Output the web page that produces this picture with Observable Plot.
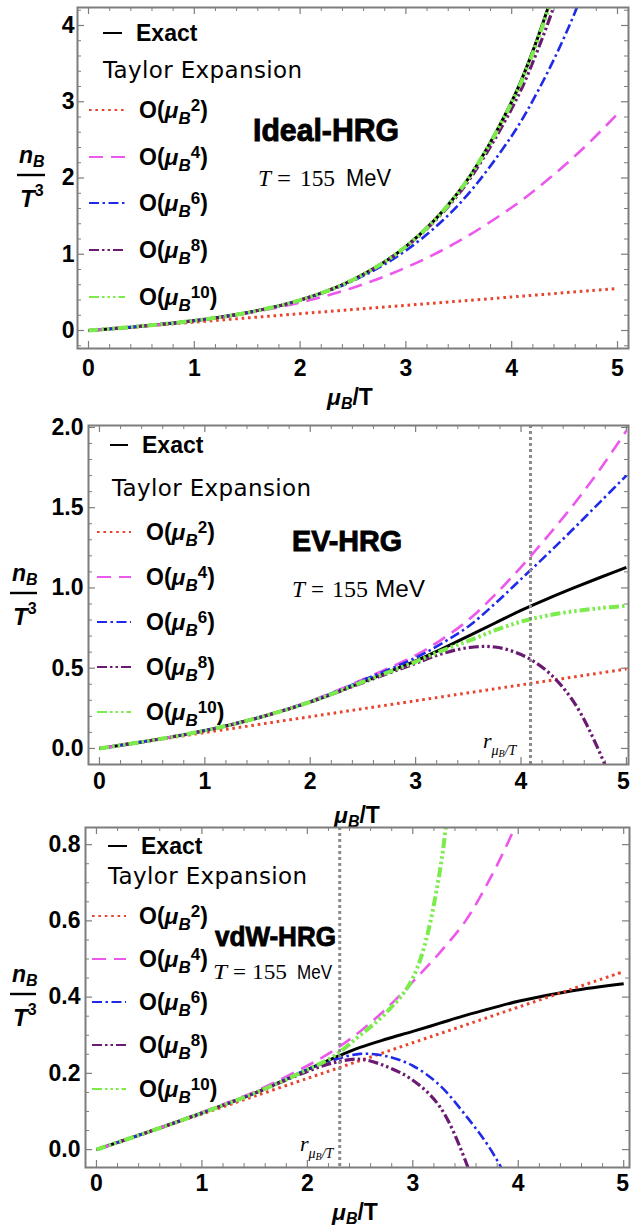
<!DOCTYPE html>
<html><head><meta charset="utf-8">
<script src="https://cdn.jsdelivr.net/npm/d3@7"></script>
<script src="https://cdn.jsdelivr.net/npm/@observablehq/plot@0.6"></script>
<style>
body{margin:0;background:#fff;}
#wrap{position:relative;width:631px;height:1226px;overflow:hidden;}
#wrap svg{position:absolute;left:0;}
</style></head><body><div id="wrap"></div>
<script>
// ---------- DATA ----------
// Panel 1: Ideal-HRG
const idealX    = [0,0.5,1,1.5,2,2.5,3,3.5,4,4.25,4.5,4.75,5];
const idealExact= [0,0.057,0.129,0.234,0.399,0.666,1.102,1.820,3.002,3.855,4.95,6.36,8.16];
const idealO2   = [0,0.055,0.11,0.165,0.22,0.275,0.33,0.385,0.44,0.4675,0.495,0.5225,0.55];
const idealO4   = [0,0.0573,0.1283,0.2269,0.3667,0.5615,0.825,1.171,1.613,1.875,2.166,2.487,2.842];
const idealO6   = [0,0.0573,0.1292,0.2338,0.396,0.651,1.048,1.653,2.552,3.146,3.857,4.704,5.706];
const idealO8   = [0,0.0573,0.1293,0.2342,0.3988,0.6643,1.0955,1.793,2.910,3.693,4.673,5.895,7.41];
const idealO10  = [0,0.0573,0.1293,0.2342,0.399,0.6655,1.1015,1.817,2.989,3.830,4.90,6.27,8.0];
// Panel 2: EV-HRG
const evX    = [0,0.5,1,1.5,2,2.5,3,3.25,3.5,3.75,4,4.25,4.5,4.75,5];
const evExact= [0,0.051,0.111,0.19,0.29,0.415,0.545,0.62,0.70,0.78,0.86,0.932,1.0,1.065,1.128];
const evO2   = [0,0.0495,0.099,0.1485,0.198,0.2475,0.297,0.3218,0.3465,0.3713,0.396,0.4208,0.4455,0.4703,0.495];
const evO4   = [0,0.051,0.112,0.192,0.295,0.43,0.58,0.68,0.80,0.955,1.13,1.32,1.52,1.74,1.98];
const evO6   = [0,0.051,0.112,0.191,0.292,0.425,0.565,0.655,0.76,0.90,1.055,1.21,1.37,1.535,1.70];
const evO8   = [0,0.051,0.111,0.19,0.289,0.41,0.53,0.59,0.628,0.632,0.585,0.48,0.29,-0.03,-0.45];
const evO10  = [0,0.051,0.111,0.19,0.29,0.415,0.54,0.61,0.67,0.735,0.79,0.828,0.855,0.874,0.889];
const evRadius = 4.09;
// Panel 3: vdW-HRG
const vdwX    = [0,0.5,1,1.5,2,2.25,2.5,2.75,3,3.25,3.5,3.75,4,4.5,5];
const vdwExact= [0,0.047,0.096,0.148,0.21,0.24,0.268,0.29,0.31,0.331,0.352,0.371,0.389,0.416,0.435];
const vdwO2   = [0,0.0467,0.0934,0.1401,0.1868,0.2102,0.2335,0.2569,0.2802,0.3036,0.3269,0.3503,0.3736,0.4203,0.467];
const vdwO4   = [0,0.047,0.098,0.152,0.22,0.26,0.31,0.37,0.44,0.515,0.60,0.72,0.865,1.2,1.6];
const vdwO6   = [0,0.047,0.096,0.148,0.21,0.235,0.251,0.245,0.22,0.17,0.09,-0.005,-0.14,-0.5,-1.0];
const vdwO8   = [0,0.047,0.096,0.148,0.205,0.228,0.237,0.218,0.182,0.115,-0.03,-0.25,-0.55,-1.2,-2.0];
const vdwO10  = [0,0.047,0.096,0.148,0.21,0.245,0.30,0.36,0.45,0.72,1.5,2.5,4.0,6.0,8.0];
const vdwRadius = 2.307;

const seriesKeys = ["Exact","O2","O4","O6","O8","O10"];
const orderLabels = ["2","4","6","8","10"];
const xTicks = [0,1,2,3,4,5];
const idealYTicks = [0,1,2,3,4];
const evYTicks = [0,0.5,1.0,1.5,2.0];
const vdwYTicks = [0,0.2,0.4,0.6,0.8];

// ---------- STYLE ----------
const SANS = "'Liberation Sans', Arial, Helvetica, sans-serif";
const SERIF = "'Liberation Serif', 'Times New Roman', serif";
const WIDE = "'DejaVu Sans', sans-serif";
const GRAY = "#7d7d7d";
const STY = {
  Exact:{c:"#000000", w:3, d:null},
  O2:  {c:"#e8432d", w:3, d:"2.6,3.8"},
  O4:  {c:"#ec57ec", w:2.6, d:"14,8"},
  O6:  {c:"#1f2ae8", w:2.6, d:"10,3.5,2.5,3.5"},
  O8:  {c:"#6a1a72", w:3.2, d:"10,3,2.5,3,2.5,3"},
  O10: {c:"#7cec4c", w:4, d:"10,3,2.5,3,2.5,3,2.5,3"}
};
const W = 631;
const wrap = document.getElementById("wrap");

function txt(g, x, y, s, o={}) {
  const t = g.append("text").attr("x", x).attr("y", y)
    .attr("font-family", o.family || SANS).attr("font-size", o.size || 22)
    .attr("font-weight", o.weight || "normal").attr("font-style", o.style || "normal")
    .attr("text-anchor", o.anchor || "start").attr("fill", "#000").text(s);
  if (o.len) t.attr("textLength", o.len).attr("lengthAdjust", o.adjust || "spacingAndGlyphs");
  if (o.stroke) t.attr("stroke", "#000").attr("stroke-width", o.stroke);
  return t;
}
function oLabel(g, x, y, n) {
  const t = g.append("text").attr("x", x).attr("y", y).attr("font-family", SANS)
    .attr("text-anchor","start").attr("font-weight","bold").attr("font-size",23).attr("fill","#000");
  t.append("tspan").text("O(");
  t.append("tspan").attr("font-style","italic").text("μ");
  t.append("tspan").attr("font-style","italic").attr("font-size",17).attr("dy",6).text("B");
  t.append("tspan").attr("font-size",17).attr("dy",-13).text(n);
  t.append("tspan").attr("dy",7).text(")");
}
function yLabel(g, x0, bar, w) {
  const a = g.append("text").attr("x", x0+2).attr("y", bar-12).attr("font-family",SANS).attr("text-anchor","start")
    .attr("font-weight","bold").attr("font-style","italic").attr("font-size",23);
  a.append("tspan").text("n");
  a.append("tspan").attr("font-size",16).attr("dy",4).text("B");
  g.append("line").attr("x1",x0).attr("x2",x0+w).attr("y1",bar).attr("y2",bar)
    .attr("stroke","#000").attr("stroke-width",2.4);
  const b = g.append("text").attr("x", x0+3).attr("y", bar+32).attr("font-family",SANS).attr("text-anchor","start")
    .attr("font-weight","bold").attr("font-style","italic").attr("font-size",24);
  b.append("tspan").text("T");
  b.append("tspan").attr("font-size",16).attr("font-style","normal").attr("dy",-11).text("3");
}
function xLabel(g, cx, y) {
  const t = g.append("text").attr("x",cx).attr("y",y).attr("text-anchor","middle")
    .attr("font-family",SANS).attr("font-weight","bold").attr("font-size",23);
  t.append("tspan").attr("font-style","italic").text("μ");
  t.append("tspan").attr("font-style","italic").attr("font-size",16).attr("dy",4).text("B");
  t.append("tspan").attr("dy",-4).text("/T");
}
function rLabel(g, x, y) {
  const t = g.append("text").attr("x",x).attr("y",y).attr("font-family",SERIF).attr("text-anchor","start")
    .attr("font-style","italic").attr("font-size",22);
  t.append("tspan").text("r");
  t.append("tspan").attr("font-size",14).attr("dy",7).text("μ");
  t.append("tspan").attr("font-size",10).attr("dy",2).text("B");
  t.append("tspan").attr("font-size",14).attr("dy",-2).text("/T");
}
function tempLabel(g, y, parts, size) {
  const [pT, pE, pN, pM] = parts;
  txt(g, pT[0], y, "T", {family:SERIF, style:"italic", size, len:pT[1]-pT[0]});
  txt(g, pE[0], y, "=", {family:SERIF, size, len:pE[1]-pE[0]});
  txt(g, pN[0], y, "155", {family:SERIF, size, len:pN[1]-pN[0]});
  txt(g, pM[0], y, "MeV", {family:SANS, size, len:pM[1]-pM[0]});
}
function legend(g, L) {
  g.append("line").attr("x1",L.ex[0]).attr("x2",L.ex[1]).attr("y1",L.ey).attr("y2",L.ey)
    .attr("stroke","#000").attr("stroke-width",2);
  txt(g, L.etx, L.ey+8, "Exact", {weight:"bold", size:23});
  txt(g, L.tx, L.ty+8, "Taylor Expansion", {family:WIDE, size:23, len:199, adjust:"spacing"});
  seriesKeys.slice(1).forEach((k,i) => {
    const y = L.ys[i];
    g.append("line").attr("x1",L.sx[0]).attr("x2",L.sx[1]).attr("y1",y).attr("y2",y)
      .attr("stroke",STY[k].c).attr("stroke-width",2.2).attr("stroke-dasharray", STY[k].d);
    oLabel(g, L.lx, y+8, orderLabels[i]);
  });
}

function makePanel(p) {
  const innerW = W - p.ml - p.mr, innerH = p.h - p.mt - p.mb;
  const eps = 1e-9;
  const inD = (v, d) => v >= d[0]-eps && v <= d[1]+eps;
  const xMinor = d3.range(-1, 27).map(i => i*0.2).filter(v => inD(v,p.xd) && Math.abs(v-Math.round(v))>1e-6);
  const yMinor = d3.range(-2, 200).map(i => i*p.yMinorStep).filter(v => inD(v,p.yd) && !p.yTicks.some(t => Math.abs(t-v)<1e-6));
  const rows = [];
  p.series.forEach(s => s.y.forEach((v,i) => rows.push({x: p.x[i], y: v, k: s.k})));
  const lastDx = p.lastDx || 0;
  const marks = [
    Plot.tickX(xMinor, {x: d=>d, insetTop: innerH-4, stroke: GRAY, strokeWidth: 1}),
    Plot.tickX(xMinor, {x: d=>d, insetBottom: innerH-4, stroke: GRAY, strokeWidth: 1}),
    Plot.tickX(xTicks, {x: d=>d, insetTop: innerH-7, stroke: GRAY, strokeWidth: 1.2}),
    Plot.tickX(xTicks, {x: d=>d, insetBottom: innerH-7, stroke: GRAY, strokeWidth: 1.2}),
    Plot.tickY(yMinor, {y: d=>d, insetRight: innerW-4, stroke: GRAY, strokeWidth: 1}),
    Plot.tickY(yMinor, {y: d=>d, insetLeft: innerW-4, stroke: GRAY, strokeWidth: 1}),
    Plot.tickY(p.yTicks, {y: d=>d, insetRight: innerW-7, stroke: GRAY, strokeWidth: 1.2}),
    Plot.tickY(p.yTicks, {y: d=>d, insetLeft: innerW-7, stroke: GRAY, strokeWidth: 1.2}),
    Plot.axisX({ticks: xTicks.slice(0,-1), tickSize: 0, tickPadding: p.xPad, label: null, tickFormat: d3.format("d")}),
    Plot.axisX({ticks: xTicks.slice(-1), tickSize: 0, tickPadding: p.xPad, label: null, tickFormat: d3.format("d"), dx: lastDx}),
    Plot.axisY({ticks: p.yTicks, tickSize: 0, tickPadding: p.yPad, label: null, tickFormat: p.yFmt}),
  ];
  p.series.forEach(s => {
    const st = STY[s.k];
    marks.push(Plot.line(rows.filter(r => r.k === s.k), {
      x: "x", y: "y", stroke: st.c, strokeWidth: st.w, strokeDasharray: st.d,
      strokeLinecap: "butt", strokeLinejoin: "round",
      curve: "catmull-rom", clip: true
    }));
  });
  if (p.radius != null) {
    marks.push(Plot.ruleX([p.radius], {stroke: "#8a8a8a", strokeWidth: 3, strokeDasharray: "3,3"}));
  }
  marks.push(Plot.frame({stroke: GRAY, strokeWidth: 2}));
  const node = Plot.plot({
    width: W, height: p.h,
    marginTop: p.mt, marginBottom: p.mb, marginLeft: p.ml, marginRight: p.mr,
    x: {domain: p.xd}, y: {domain: p.yd},
    style: {fontFamily: SANS, fontSize: "23px", fontWeight: "bold", background: "transparent", overflow: "visible", color: "#000"},
    marks
  });
  node.style.top = p.top + "px";
  wrap.appendChild(node);
  const g = d3.select(node).append("g").attr("transform", `translate(0,${-p.top})`)
    .attr("font-weight","normal").attr("fill","#000").attr("text-anchor","start");
  return g;
}

// ---------- PANEL 1 ----------
{
  const g = makePanel({top: 0, h: 415, mt: 7, mb: 67, ml: 77, mr: 3,
    xd: [-0.104, 5.104], yd: [-0.236, 4.236], yTicks: idealYTicks, yMinorStep: 0.2,
    yFmt: d3.format("d"), xPad: 11, yPad: 3, x: idealX,
    series: [{k:"Exact",y:idealExact},{k:"O2",y:idealO2},{k:"O4",y:idealO4},{k:"O6",y:idealO6},{k:"O8",y:idealO8},{k:"O10",y:idealO10}]});
  legend(g, {ex:[103,122], ey:33, etx:136, tx:103, ty:70, sx:[89,125], lx:139, ys:[110,157,203,250,297]});
  txt(g, 253, 141, "Ideal-HRG", {weight:"bold", size:31, len:146, stroke:0.9});
  tempLabel(g, 186, [[258,271],[277,291],[300,335],[346,391]], 23);
  yLabel(g, 17, 175, 28);
  xLabel(g, 350, 405);
}
// ---------- PANEL 2 ----------
{
  const g = makePanel({top: 415, h: 410, mt: 10, mb: 61, ml: 88, mr: 3,
    xd: [-0.104, 5.02], yd: [-0.10, 2.012], yTicks: evYTicks, yMinorStep: 0.1,
    yFmt: d3.format(".1f"), xPad: 8, yPad: 5, x: evX, radius: evRadius, lastDx: -3,
    series: [{k:"Exact",y:evExact},{k:"O2",y:evO2},{k:"O4",y:evO4},{k:"O6",y:evO6},{k:"O8",y:evO8},{k:"O10",y:evO10}]});
  legend(g, {ex:[110,128], ey:445, etx:142, tx:112, ty:488, sx:[97,131], lx:146, ys:[532,577,622,667,712]});
  txt(g, 292, 551, "EV-HRG", {weight:"bold", size:29, len:110, stroke:0.9});
  tempLabel(g, 597, [[292,305],[311,324],[332,368],[375,425]], 24);
  rLabel(g, 483, 748);
  yLabel(g, 10, 593, 27);
  xLabel(g, 357, 823);
}
// ---------- PANEL 3 ----------
{
  const g = makePanel({top: 825, h: 401, mt: 2, mb: 59, ml: 85, mr: 2,
    xd: [-0.104, 5.055], yd: [-0.047, 0.845], yTicks: vdwYTicks, yMinorStep: 0.05,
    yFmt: d3.format(".1f"), xPad: 7, yPad: 5, x: vdwX, radius: vdwRadius, lastDx: -1,
    series: [{k:"Exact",y:vdwExact},{k:"O2",y:vdwO2},{k:"O4",y:vdwO4},{k:"O6",y:vdwO6},{k:"O8",y:vdwO8},{k:"O10",y:vdwO10}]});
  legend(g, {ex:[108,127], ey:846, etx:141, tx:108, ty:876, sx:[92,126], lx:139, ys:[916,959,1002,1045,1089]});
  txt(g, 215, 946, "vdW-HRG", {weight:"bold", size:28, len:121, stroke:0.9});
  tempLabel(g, 979, [[213,227],[233,246],[252,287],[297,332]], 21);
  rLabel(g, 300, 1151);
  yLabel(g, 10, 994, 26);
  xLabel(g, 355, 1220);
}
</script></body></html>
